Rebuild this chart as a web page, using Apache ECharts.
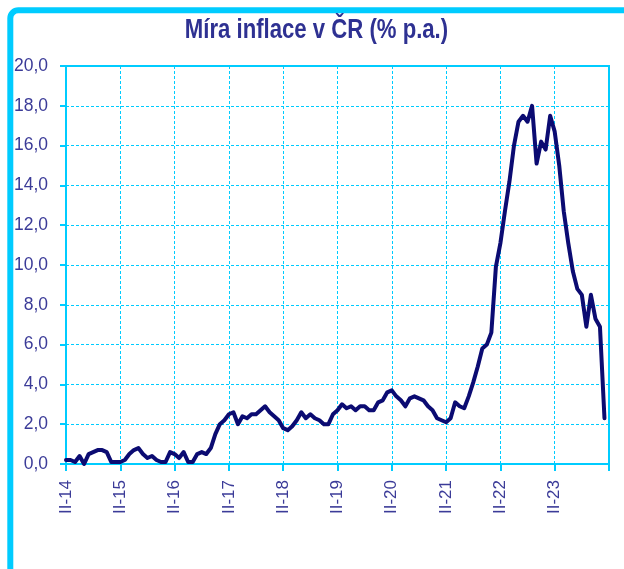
<!DOCTYPE html>
<html>
<head>
<meta charset="utf-8">
<script src="https://cdn.jsdelivr.net/npm/echarts@6/dist/echarts.min.js"></script>
<style>
html,body{margin:0;padding:0;background:#fff;}
#c{width:624px;height:569px;}
</style>
</head>
<body>
<div id="c"></div>
<script>
// Míra inflace v ČR (% p.a.), monthly, from II-2014 to I-2024
const startYear = 2014;
const startMonth = 2; // February
const v2014 = [0.2, 0.2, 0.1, 0.4, 0.0, 0.5, 0.6, 0.7, 0.7, 0.6, 0.1]; // II..XII
const v2015 = [0.1, 0.1, 0.2, 0.5, 0.7, 0.8, 0.5, 0.3, 0.4, 0.2, 0.1, 0.1];
const v2016 = [0.6, 0.5, 0.3, 0.6, 0.1, 0.1, 0.5, 0.6, 0.5, 0.8, 1.5, 2.0];
const v2017 = [2.2, 2.5, 2.6, 2.0, 2.4, 2.3, 2.5, 2.5, 2.7, 2.9, 2.6, 2.4];
const v2018 = [2.2, 1.8, 1.7, 1.9, 2.2, 2.6, 2.3, 2.5, 2.3, 2.2, 2.0, 2.0];
const v2019 = [2.5, 2.7, 3.0, 2.8, 2.9, 2.7, 2.9, 2.9, 2.7, 2.7, 3.1, 3.2];
const v2020 = [3.6, 3.7, 3.4, 3.2, 2.9, 3.3, 3.4, 3.3, 3.2, 2.9, 2.7, 2.3];
const v2021 = [2.2, 2.1, 2.3, 3.1, 2.9, 2.8, 3.4, 4.1, 4.9, 5.8, 6.0, 6.6];
const v2022 = [9.9, 11.1, 12.7, 14.2, 16.0, 17.2, 17.5, 17.2, 18.0, 15.1, 16.2, 15.8];
const v2023 = [17.5, 16.7, 15.0, 12.7, 11.1, 9.7, 8.8, 8.5, 6.9, 8.5, 7.3, 6.9];
const v2024 = [2.3]; // I
const inflation = [].concat(v2014, v2015, v2016, v2017, v2018, v2019, v2020, v2021, v2022, v2023, v2024);

const romanMonths = ['I','II','III','IV','V','VI','VII','VIII','IX','X','XI','XII'];
const yTicks = [0, 2, 4, 6, 8, 10, 12, 14, 16, 18, 20];
const labelEvery = 12;
const titleText = 'Míra inflace v ČR (% p.a.)';

// categories: one per month, plus one extra slot closing the axis (II-24)
const categories = [];
for (let i = 0; i <= inflation.length; i++) {
  const m = (startMonth - 1 + i) % 12;
  const y = startYear + Math.floor((startMonth - 1 + i) / 12);
  categories.push(romanMonths[m] + '-' + String(y).slice(2));
}
const lastIdx = categories.length - 1;

const cyan = '#00ccff';
const textBlue = '#3b3b98';
const sans = "'Liberation Sans', Arial, sans-serif";

const chart = echarts.init(document.getElementById('c'), null, {renderer: 'canvas'});
chart.setOption({
  backgroundColor: '#ffffff',
  animation: false,
  graphic: [
    {
      type: 'rect',
      shape: {x: 10.3, y: 10.3, width: 800, height: 800, r: 8},
      style: {fill: 'none', stroke: cyan, lineWidth: 6},
      silent: true,
      z: -1
    },
    {
      type: 'text',
      x: 316.5,
      y: 31,
      scaleX: 0.82,
      style: {
        text: titleText,
        x: 0, y: 0,
        align: 'center',
        verticalAlign: 'middle',
        font: "bold 27px 'Liberation Sans', Arial, sans-serif",
        fill: '#2e3192'
      },
      silent: true
    }
  ],
  grid: {left: 66, right: 15, top: 66, bottom: 105, show: true, borderColor: cyan, borderWidth: 2, backgroundColor: 'transparent'},
  xAxis: {
    type: 'category',
    data: categories,
    boundaryGap: false,
    axisLine: {show: true, lineStyle: {color: cyan, width: 2}},
    axisTick: {show: true, interval: labelEvery - 1, length: 7, lineStyle: {color: cyan, width: 2}},
    axisLabel: {
      interval: labelEvery - 1,
      rotate: 90,
      margin: 16,
      fontFamily: sans,
      fontSize: 17,
      color: textBlue,
      formatter: function (v, idx) { return idx === lastIdx ? '' : v; }
    },
    splitLine: {show: true, interval: labelEvery - 1, lineStyle: {color: cyan, width: 1, type: [3, 2]}}
  },
  yAxis: {
    type: 'value',
    min: yTicks[0],
    max: yTicks[yTicks.length - 1],
    interval: 2,
    axisLine: {show: true, lineStyle: {color: cyan, width: 2}},
    axisTick: {show: true, length: 6, lineStyle: {color: cyan, width: 2}},
    axisLabel: {
      margin: 18,
      fontFamily: sans,
      fontSize: 17.5,
      color: textBlue,
      formatter: function (v) { return v.toFixed(1).replace('.', ','); }
    },
    splitLine: {show: true, lineStyle: {color: cyan, width: 1, type: [3, 2]}}
  },
  series: [{
    type: 'line',
    data: inflation,
    showSymbol: false,
    symbol: 'none',
    lineStyle: {color: '#0b0b72', width: 4, join: 'round', cap: 'round'},
    clip: false
  }]
});
</script>
</body>
</html>
